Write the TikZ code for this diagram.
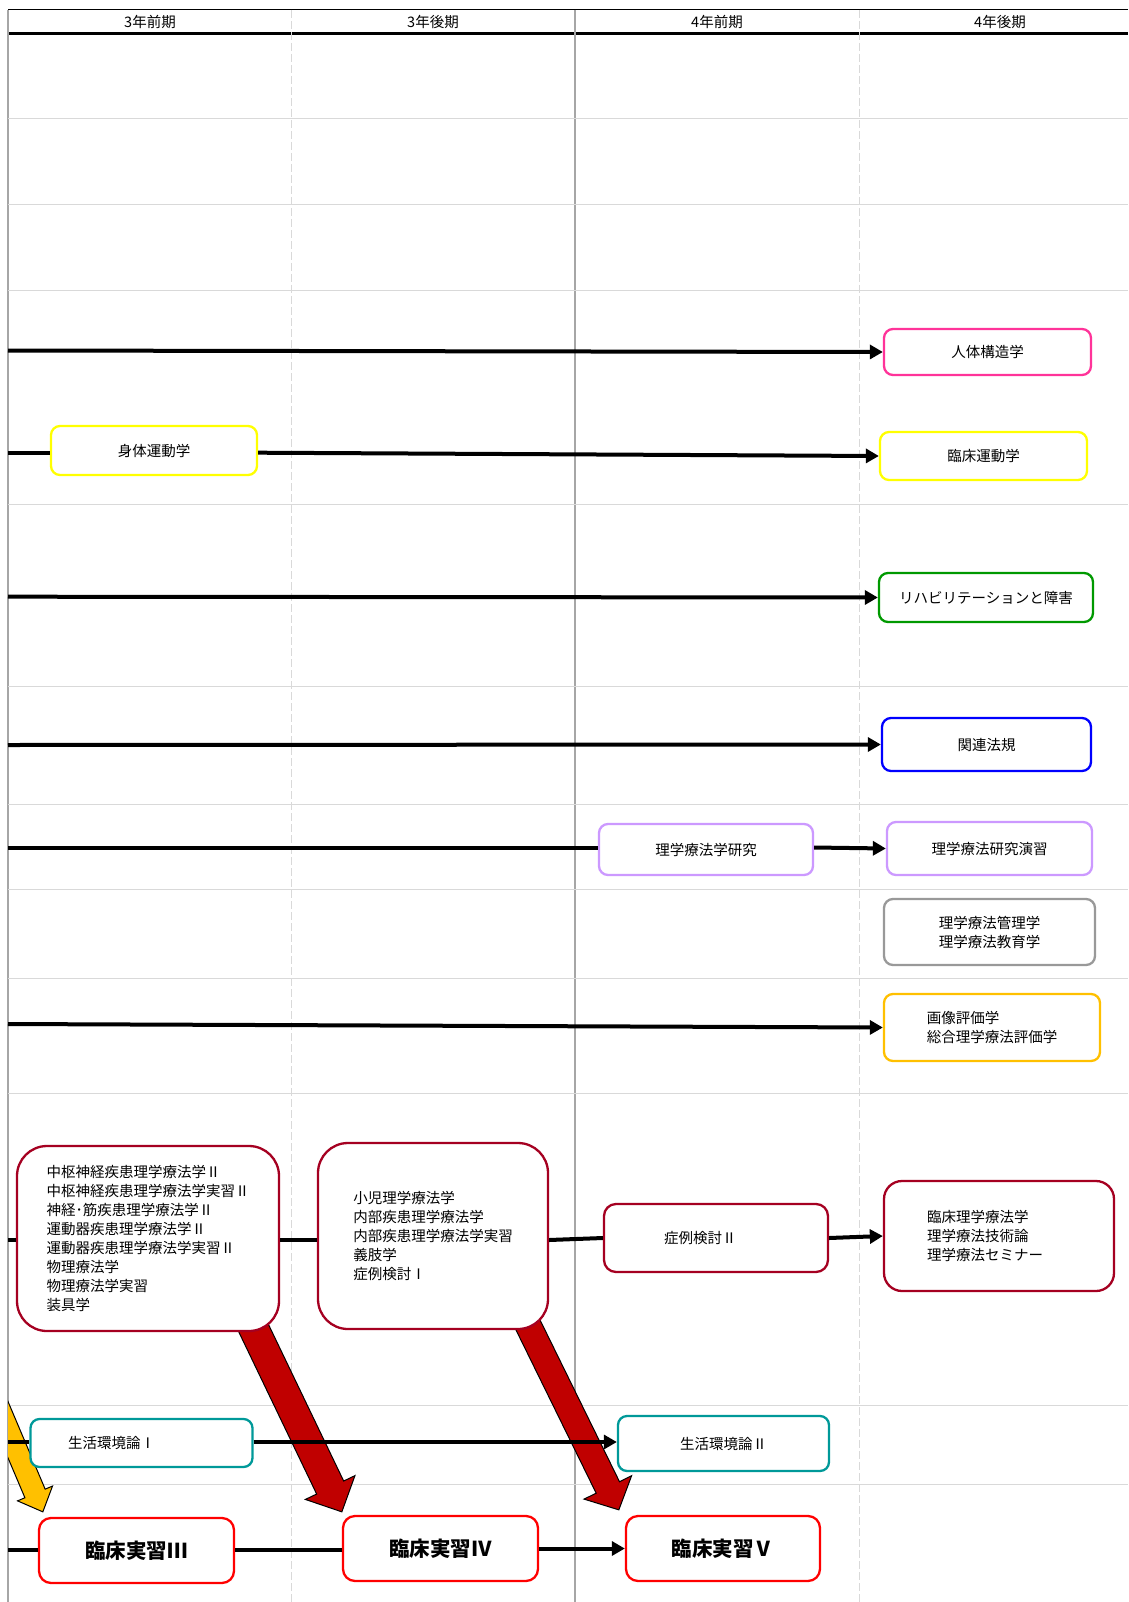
\documentclass[tikz,border=0pt]{standalone}
\usepackage{fontspec}
\setmainfont{Noto Sans CJK JP}
\usepackage{tikz}
\usetikzlibrary{arrows.meta,calc}

\definecolor{pinkline}{HTML}{FF3399}
\definecolor{yellowline}{HTML}{FFFF00}
\definecolor{greenline}{HTML}{009900}
\definecolor{blueline}{HTML}{0000FF}
\definecolor{lavender}{HTML}{CC99FF}
\definecolor{grayline}{HTML}{999999}
\definecolor{orangeline}{HTML}{FFC000}
\definecolor{crimson}{HTML}{A50021}
\definecolor{tealline}{HTML}{009999}
\definecolor{practicered}{HTML}{FF0000}
\definecolor{fatred}{HTML}{C00000}
\definecolor{fatyellow}{HTML}{FFC000}
\definecolor{gridgray}{HTML}{D9D9D9}
\definecolor{bordergray}{HTML}{A6A6A6}

\pgfdeclarelayer{grid}
\pgfdeclarelayer{fat}
\pgfsetlayers{grid,fat,main}

% start, tip, half shaft, half head, head length, fill
\newcommand{\fatarrow}[6]{%
  \coordinate (fa base) at ($(#2)!#5!(#1)$);
  \filldraw[fill=#6,draw=black,line width=1pt,line join=miter]
    ($(#1)!#3!90:(#2)$) -- ($(fa base)!#3!90:(#2)$) -- ($(fa base)!#4!90:(#2)$) -- (#2)
    -- ($(fa base)!#4!-90:(#2)$) -- ($(fa base)!#3!-90:(#2)$) -- ($(#1)!#3!-90:(#2)$) -- cycle;
}

\begin{document}
\begin{tikzpicture}[x=1pt,y=-1pt,>={Triangle[length=13pt,width=14pt]},font=\fontsize{14.5}{19}\selectfont,
  course/.style={draw,fill=white,rounded corners=9pt,line width=2.3pt,align=left,inner sep=2pt},
  practice/.style={course,draw=practicered,rounded corners=12pt,font=\fontsize{20.5}{24}\selectfont\bfseries},
  flow/.style={line width=4pt},
  grid line/.style={draw=gridgray,line width=1pt},
  term line/.style={draw=gridgray,line width=0.9pt,dash pattern=on 8pt off 3pt}]
  \useasboundingbox (0,0) rectangle (1128,1602);

  \begin{pgfonlayer}{grid}
    \fill[white] (0,0) rectangle (1128,1602);
    \draw[line width=1pt] (8,10) -- (1128,10);
    \draw[line width=3pt] (8,34) -- (1128,34);
    \draw[term line] (291.5,10) -- (291.5,1602);
    \draw[term line] (859,10) -- (859,1602);
    \draw[draw=bordergray,line width=1.2pt] (575,10) -- (575,1602);
    \draw[draw=bordergray,line width=1.2pt] (8,10) -- (8,1602);
    \draw[grid line] (8,118.5) -- (1128,118.5);
    \draw[grid line] (8,204.3) -- (1128,204.3);
    \draw[grid line] (8,290.2) -- (1128,290.2);
    \draw[grid line] (8,504.7) -- (1128,504.7);
    \draw[grid line] (8,686.6) -- (1128,686.6);
    \draw[grid line] (8,804) -- (1128,804);
    \draw[grid line] (8,889) -- (1128,889);
    \draw[grid line] (8,978) -- (1128,978);
    \draw[grid line] (8,1093) -- (1128,1093);
    \draw[grid line] (8,1405) -- (1128,1405);
    \draw[grid line] (8,1484) -- (1128,1484);
    \node (h1) at (150,22) {3年前期};
    \node (h2) at (433,22) {3年後期};
    \node (h3) at (717,22) {4年前期};
    \node (h4) at (1000,22) {4年後期};
  \end{pgfonlayer}

  \node[course,draw=pinkline,minimum width=207pt,minimum height=46pt] (jintai) at (987.5,352) {人体構造学};
  \node[course,draw=yellowline,minimum width=206pt,minimum height=49pt] (shintai) at (154,450.5) {身体運動学};
  \node[course,draw=yellowline,minimum width=207pt,minimum height=48pt] (rinundo) at (983.5,456) {臨床運動学};
  \node[course,draw=greenline,minimum width=214pt,minimum height=49pt] (rehab) at (986,597.5) {リハビリテーションと障害};
  \node[course,draw=blueline,minimum width=209pt,minimum height=53pt] (hoki) at (986.5,744.5) {関連法規};
  \node[course,draw=lavender,minimum width=214pt,minimum height=51pt] (kenkyu) at (706,849.5) {理学療法学研究};
  \node[course,draw=lavender,minimum width=205pt,minimum height=53pt] (enshu) at (989.5,848.5) {理学療法研究演習};
  \node[course,draw=grayline,minimum width=211pt,minimum height=66pt,align=center] (kanri) at (989.5,932) {理学療法管理学\\理学療法教育学};
  \node[course,draw=orangeline,minimum width=216pt,minimum height=67pt] (gazo) at (992,1027.5) {画像評価学\\総合理学療法評価学};
  \node[course,draw=crimson,rounded corners=30pt,minimum width=262pt,minimum height=185pt] (lbox) at (148,1238.5)
    {中枢神経疾患理学療法学Ⅱ\\中枢神経疾患理学療法学実習Ⅱ\\神経･筋疾患理学療法学Ⅱ\\運動器疾患理学療法学Ⅱ\\運動器疾患理学療法学実習Ⅱ\\物理療法学\\物理療法学実習\\装具学};
  \node[course,draw=crimson,rounded corners=30pt,minimum width=230pt,minimum height=186pt] (mbox) at (433,1236)
    {小児理学療法学\\内部疾患理学療法学\\内部疾患理学療法学実習\\義肢学\\症例検討Ⅰ};
  \node[course,draw=crimson,rounded corners=12pt,minimum width=224pt,minimum height=68pt,text width=104pt] (shorei) at (716,1238) {症例検討Ⅱ};
  \node[course,draw=crimson,rounded corners=18pt,minimum width=230pt,minimum height=110pt,text width=144pt] (rinsho) at (999,1236)
    {臨床理学療法学\\理学療法技術論\\理学療法セミナー};
  \node[course,draw=tealline,minimum width=222pt,minimum height=48pt,text width=147pt] (seikatsu1) at (141.5,1443) {生活環境論Ⅰ};
  \node[course,draw=tealline,minimum width=211pt,minimum height=55pt] (seikatsu2) at (723.5,1443.5) {生活環境論Ⅱ};
  \node[practice,minimum width=195pt,minimum height=65pt] (r3) at (136.5,1550.5) {臨床実習Ⅲ};
  \node[practice,minimum width=195pt,minimum height=65pt] (r4) at (440.5,1548.5) {臨床実習Ⅳ};
  \node[practice,minimum width=194pt,minimum height=65pt] (r5) at (723,1548.5) {臨床実習Ⅴ};

  \coordinate (a1) at (8,350.5);
  \coordinate (a2) at (8,452.7);
  \coordinate (a3) at (8,596.7);
  \coordinate (a4) at (8,745);
  \coordinate (a5) at (8,847.5);
  \coordinate (a6) at (8,1024);
  \coordinate (a7) at (8,1240);
  \coordinate (a8) at (8,1442);
  \coordinate (a9) at (8,1550);

  \draw[flow,->] (a1) -- (jintai.west);
  \draw[flow] (a2) -- (a2 -| shintai.west);
  \draw[flow,->] (shintai.east |- a2) -- (rinundo.west);
  \draw[flow,->] (a3) -- (rehab.west);
  \draw[flow,->] (a4) -- (hoki.west);
  \draw[flow] (a5) -- (a5 -| kenkyu.west);
  \draw[flow,->] (kenkyu.east |- a5) -- (enshu.west);
  \draw[flow,->] (a6) -- (gazo.west);
  \draw[flow] (a7) -- (a7 -| lbox.west);
  \draw[flow] (lbox.east |- a7) -- (a7 -| mbox.west);
  \draw[flow] (mbox.east |- a7) -- (shorei.west);
  \draw[flow,->] (shorei.east) -- (rinsho.west);
  \draw[flow] (a8) -- (a8 -| seikatsu1.west);
  \draw[flow,->] (seikatsu1.east |- a8) -- (a8 -| seikatsu2.west);
  \draw[flow] (a9) -- (a9 -| r3.west);
  \draw[flow] (r3.east |- a9) -- (a9 -| r4.west);
  \draw[flow,->] (r4.east) -- (r5.west);

  \begin{pgfonlayer}{fat}
    \coordinate (fa1) at ($(lbox.south)+(84,-49)$);
    \coordinate (fb1) at ($(r4.north west)+(0,-3)$);
    \coordinate (fa2) at ($(mbox.south)+(73,-50)$);
    \coordinate (fb2) at ($(r5.north west)+(-6,-5)$);
    \coordinate (fa3) at (-15.6,1374);
    \coordinate (fb3) at ($(r3.north west)+(5,-5)$);
    \fatarrow{fa1}{fb1}{15pt}{27.5pt}{27pt}{fatred}
    \fatarrow{fa2}{fb2}{13pt}{26.5pt}{25pt}{fatred}
    \begin{scope}
      \clip (8,0) rectangle (1128,1602);
      \fatarrow{fa3}{fb3}{11pt}{19pt}{20pt}{fatyellow}
    \end{scope}
  \end{pgfonlayer}
\end{tikzpicture}
\end{document}
